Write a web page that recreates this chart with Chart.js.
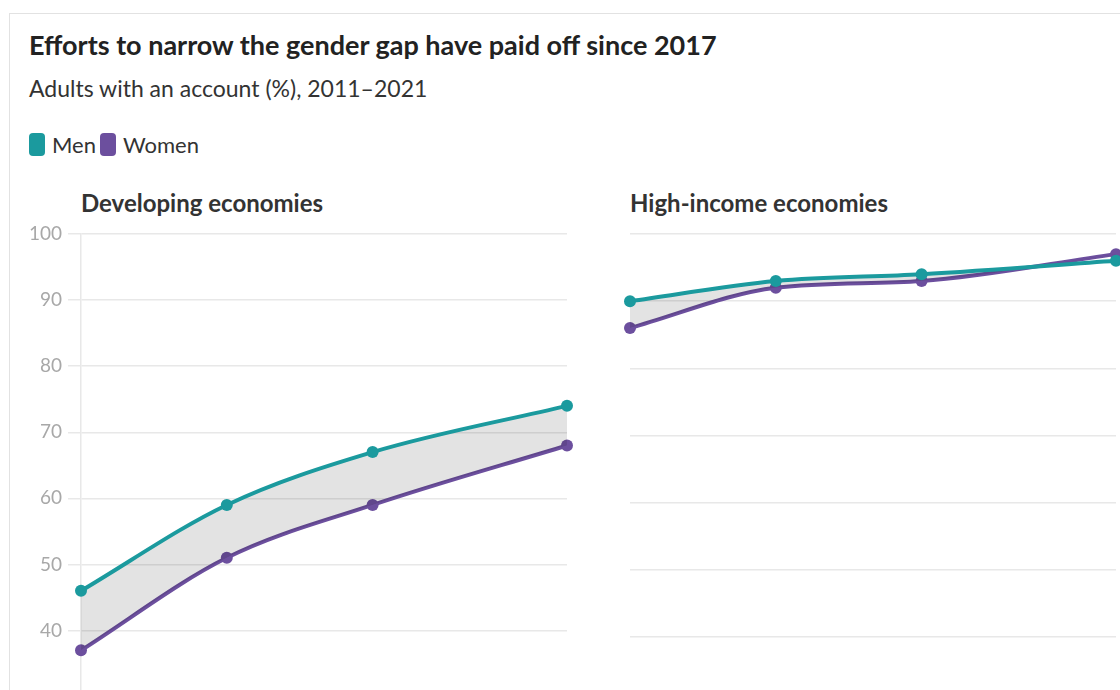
<!DOCTYPE html>
<html lang="en">
    <head>
        <meta charset="utf-8" />
        <script src="https://cdn.jsdelivr.net/npm/chart.js@4/dist/chart.umd.min.js"></script>
        <title>Gender gap in account ownership</title>
        <style>
            body { margin: 0; background: #fff; overflow: hidden; width: 1120px; height: 690px; position: relative; font-family: "Source Sans Pro", Lato, sans-serif; color: #333; }
            .card { position: absolute; left: 9px; top: 13px; width: 1300px; height: 900px; border: 1px solid #e2e2e2; }
            .titulo { position: absolute; left: 29px; top: 28px; font-size: 27px; font-weight: 700; color: #222; white-space: nowrap; }
            .subtitulo { position: absolute; left: 29px; top: 74px; font-size: 23px; color: #333; white-space: nowrap; }
            .leyenda { position: absolute; left: 29px; top: 131px; font-size: 22px; color: #333; display: flex; align-items: center; }
            .leyenda span.caja { display: inline-block; width: 16px; height: 23px; border-radius: 4px; margin-right: 7px; }
            .leyenda span.txt { margin-right: 4px; }
            .panel { position: absolute; top: 188px; font-size: 24px; font-weight: 700; color: #333; white-space: nowrap; }
            canvas { position: absolute; }
        </style>
    </head>
    <body>
        <div class="card"></div>
        <div class="titulo">Efforts to narrow the gender gap have paid off since 2017</div>
        <div class="subtitulo">Adults with an account (%), 2011–2021</div>
        <div class="leyenda" id="leyenda"></div>
        <div class="panel" style="left: 81px">Developing economies</div>
        <div class="panel" style="left: 630px">High-income economies</div>
        <div style="position:absolute; left:20px; top:214px; width:560px; height:500px"><canvas id="izq"></canvas></div>
        <div style="position:absolute; left:620px; top:214px; width:510px; height:500px"><canvas id="der"></canvas></div>
        <script>
            // años de la encuesta y porcentajes por grupo
            const years = [2011, 2014, 2017, 2021];
            const devMen = [46, 59, 67, 74];
            const devWomen = [37, 51, 59, 68];
            const highMen = [90, 93, 94, 96];
            const highWomen = [86, 92, 93, 97];
            const yMin = 30;
            const yTicks = [40, 50, 60, 70, 80, 90, 100];

            const teal = "#1b9a9e";
            const purple = "#6c4f9e";
            const gapFill = "rgba(0,0,0,0.11)";

            // leyenda
            const leyenda = document.getElementById("leyenda");
            [["Men", teal], ["Women", purple]].forEach(([nombre, color]) => {
                leyenda.innerHTML += `<span class="caja" style="background:${color}"></span><span class="txt">${nombre}</span>`;
            });

            function serie(label, values, color, fill) {
                return {
                    label: label,
                    data: years.map((y, i) => ({ x: y, y: values[i] })),
                    borderColor: color,
                    backgroundColor: color,
                    borderWidth: 4,
                    pointRadius: 6,
                    pointBackgroundColor: color,
                    pointBorderWidth: 0,
                    cubicInterpolationMode: "monotone",
                    clip: false,
                    fill: fill
                };
            }

            function grafico(id, men, women, conEje) {
                new Chart(document.getElementById(id).getContext("2d"), {
                    type: "line",
                    data: {
                        datasets: [
                            // relleno gris solo donde los hombres superan a las mujeres
                            serie("Men", men, teal, { target: "+1", above: gapFill, below: "transparent" }),
                            serie("Women", women, purple, false)
                        ]
                    },
                    options: {
                        responsive: true,
                        maintainAspectRatio: false,
                        animation: false,
                        layout: { padding: conEje ? { top: 20, right: 13, bottom: 10, left: 0 } : { top: 20, right: 14, bottom: 10, left: 10 } },
                        plugins: { legend: { display: false }, tooltip: { enabled: false } },
                        scales: {
                            x: { type: "linear", min: years[0], max: years[years.length - 1], display: false },
                            y: {
                                min: yMin,
                                max: yTicks[yTicks.length - 1],
                                afterBuildTicks: (scale) => { scale.ticks = yTicks.map((v) => ({ value: v })); },
                                afterFit: (scale) => { scale.width = conEje ? 61 : 0; },
                                grid: { color: "#e8e8e8", lineWidth: 1.5, drawTicks: conEje, tickLength: 13 },
                                border: { display: conEje, color: "#e8e8e8", width: 1.5 },
                                ticks: { display: conEje, color: "#a8a8a8", padding: 6, font: { family: "'Source Sans Pro', Lato, sans-serif", size: 19 } }
                            }
                        }
                    }
                });
            }

            grafico("izq", devMen, devWomen, true);
            grafico("der", highMen, highWomen, false);
        </script>
    </body>
</html>
